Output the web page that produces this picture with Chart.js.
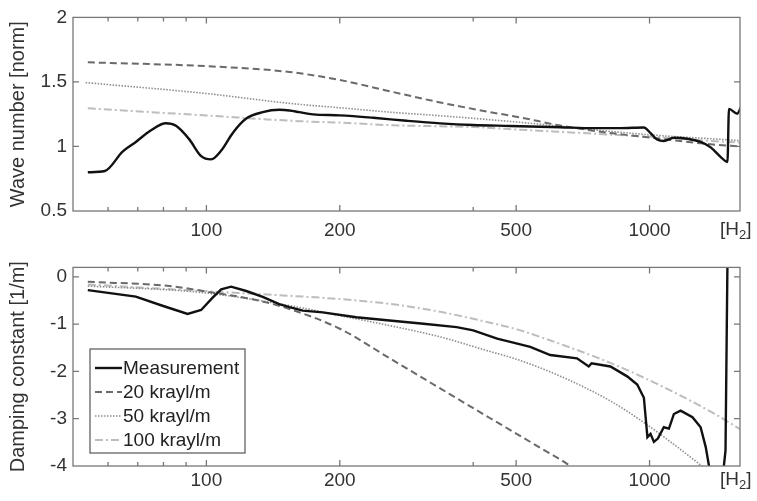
<!DOCTYPE html>
<html>
<head>
<meta charset="utf-8">
<script src="https://cdn.jsdelivr.net/npm/chart.js@4.4.0/dist/chart.umd.min.js"></script>
<style>
  body { margin: 0; background: #fff; }
  canvas { position: absolute; left: 0; }
  #topChart { top: 0; }
  #bottomChart { top: 250px; }
</style>
</head>
<body>
<canvas id="topChart" width="757" height="250"></canvas>
<canvas id="bottomChart" width="757" height="251"></canvas>
<script>
// --- frequency axis ---
const xTickValues = [60, 70, 80, 90, 100, 200, 400, 500, 1000];
const xTickLabels = [100, 200, 500, 1000];

// --- top panel: wave number [norm] ---
const waveTicks = [0.5, 1, 1.5, 2];
const measTopFreq = [54, 59, 64.7, 69.3, 75, 81, 85.4, 91.5, 97.3, 102.5, 108, 114.7, 123, 134, 146, 154, 162, 174, 200, 238, 283, 337, 400, 485, 629, 748, 860, 971, 1005, 1040, 1077, 1135, 1217, 1304, 1374, 1448, 1499, 1511, 1578, 1607];
const measTopWave = [0.80, 0.81, 0.96, 1.035, 1.125, 1.18, 1.16, 1.055, 0.925, 0.90, 0.968, 1.105, 1.216, 1.266, 1.284, 1.279, 1.266, 1.249, 1.241, 1.222, 1.199, 1.179, 1.166, 1.159, 1.149, 1.142, 1.142, 1.147, 1.104, 1.054, 1.042, 1.067, 1.06, 1.035, 0.993, 0.918, 0.88, 1.291, 1.254, 1.304];
const k20TopFreq = [54, 100, 154, 200, 259, 337, 437, 511, 629, 816, 1059, 1374, 1600];
const k20TopWave = [1.652, 1.622, 1.577, 1.515, 1.428, 1.341, 1.266, 1.225, 1.162, 1.104, 1.06, 1.017, 1.0];
const k50TopFreq = [53.4, 100, 154, 200, 259, 337, 500, 816, 1059, 1374, 1600];
const k50TopWave = [1.495, 1.41, 1.334, 1.30, 1.266, 1.238, 1.19, 1.117, 1.084, 1.06, 1.045];
const k100TopFreq = [54, 100, 162, 200, 259, 400, 511, 816, 1059, 1374, 1600];
const k100TopWave = [1.296, 1.24, 1.196, 1.185, 1.165, 1.15, 1.13, 1.092, 1.07, 1.043, 1.03];

// --- bottom panel: damping constant [1/m] ---
const dampTicks = [-4, -3, -2, -1, 0];
const measBotFreq = [54, 69.3, 79.6, 90.7, 97.3, 103.3, 108, 113.7, 123, 134, 146, 154, 165, 183, 218, 259, 309, 367, 400, 453, 485, 538, 597, 686, 729, 740, 816, 890, 938, 971, 989, 1005, 1023, 1044, 1077, 1106, 1135, 1175, 1250, 1304, 1339, 1362, 1400, 1460, 1484, 1499];
const measBotDamp = [-0.28, -0.417, -0.611, -0.785, -0.701, -0.44, -0.264, -0.208, -0.299, -0.424, -0.576, -0.64, -0.715, -0.75, -0.854, -0.923, -0.993, -1.063, -1.13, -1.306, -1.375, -1.479, -1.653, -1.722, -1.896, -1.826, -1.896, -2.104, -2.278, -2.556, -3.39, -3.32, -3.49, -3.42, -3.18, -3.21, -2.90, -2.83, -2.97, -3.18, -3.60, -4.0, -4.3, -4.3, -3.67, 0.3];
const k20BotFreq = [54, 82.5, 103.3, 127, 154, 200, 259, 337, 437, 485, 577, 657, 700];
const k20BotDamp = [-0.104, -0.194, -0.333, -0.472, -0.68, -1.097, -1.72, -2.36, -2.99, -3.24, -3.66, -3.98, -4.2];
const k50BotFreq = [54, 98, 162, 200, 259, 337, 437, 500, 629, 816, 971, 1156, 1304, 1400];
const k50BotDamp = [-0.194, -0.333, -0.646, -0.82, -1.03, -1.27, -1.58, -1.74, -2.10, -2.625, -3.08, -3.60, -3.98, -4.2];
const k100BotFreq = [54, 98, 154, 200, 259, 337, 437, 502, 629, 816, 1059, 1374, 1600];
const k100BotDamp = [-0.16, -0.30, -0.40, -0.47, -0.57, -0.74, -0.97, -1.11, -1.42, -1.82, -2.30, -2.85, -3.22];

const seriesNames = ['Measurement', '20 krayl/m', '50 krayl/m', '100 krayl/m'];

Chart.defaults.font.family = "'Liberation Sans', Arial, sans-serif";
Chart.defaults.font.size = 19;
Chart.defaults.color = '#333';

function toPoints(freqs, vals) {
    return freqs.map((f, i) => ({ x: f, y: vals[i] }));
}

function makeDatasets(sets, smoothMeas) {
    return [
        { label: seriesNames[0], data: sets[0], borderColor: '#111', borderWidth: 2.4,
          cubicInterpolationMode: smoothMeas ? 'monotone' : 'default', tension: 0 },
        { label: seriesNames[1], data: sets[1], borderColor: '#6a6a6a', borderWidth: 2,
          borderDash: [7, 4], cubicInterpolationMode: 'monotone' },
        { label: seriesNames[2], data: sets[2], borderColor: '#8e8e8e', borderWidth: 1.6,
          borderDash: [1.5, 1.5], cubicInterpolationMode: 'monotone' },
        { label: seriesNames[3], data: sets[3], borderColor: '#bdbdbd', borderWidth: 2,
          borderDash: [8, 3, 2, 3], cubicInterpolationMode: 'monotone' }
    ].map(ds => Object.assign(ds, { pointRadius: 0, fill: false }));
}

// box + inward tick marks + [H2] unit, matlab style
const framePlugin = {
    id: 'frame',
    afterDraw(chart, args, opts) {
        const { ctx, chartArea: a, scales } = chart;
        ctx.save();
        ctx.strokeStyle = '#777';
        ctx.lineWidth = 1.3;
        ctx.strokeRect(a.left, a.top, a.right - a.left, a.bottom - a.top);
        ctx.beginPath();
        xTickValues.forEach(v => {
            const px = scales.x.getPixelForValue(v);
            const len = xTickLabels.includes(v) ? 6 : 4;
            ctx.moveTo(px, a.bottom); ctx.lineTo(px, a.bottom - len);
            ctx.moveTo(px, a.top); ctx.lineTo(px, a.top + len);
        });
        scales.y.ticks.forEach(t => {
            const py = scales.y.getPixelForValue(t.value);
            if (py <= a.top + 1 || py >= a.bottom - 1) return;
            ctx.moveTo(a.left, py); ctx.lineTo(a.left + 6, py);
            ctx.moveTo(a.right, py); ctx.lineTo(a.right - 6, py);
        });
        ctx.stroke();

        // unit label
        const y = a.bottom + opts.unitOffset;
        ctx.fillStyle = '#333';
        ctx.textBaseline = 'middle';
        ctx.textAlign = 'left';
        ctx.font = "19px 'Liberation Sans', Arial, sans-serif";
        ctx.fillText('[H', 720, y);
        const w = ctx.measureText('[H').width;
        ctx.font = "13px 'Liberation Sans', Arial, sans-serif";
        ctx.fillText('2', 720 + w, y + 5);
        const w2 = ctx.measureText('2').width;
        ctx.font = "19px 'Liberation Sans', Arial, sans-serif";
        ctx.fillText(']', 720 + w + w2, y);
        ctx.restore();
    }
};

// legend box inside the lower panel
const legendPlugin = {
    id: 'boxLegend',
    afterDraw(chart, args, opts) {
        if (!opts.show) return;
        const { ctx } = chart;
        const bx = 90, by = 99, bw = 155, bh = 104;
        ctx.save();
        ctx.fillStyle = '#fff';
        ctx.fillRect(bx, by, bw, bh);
        ctx.strokeStyle = '#555';
        ctx.lineWidth = 1.2;
        ctx.strokeRect(bx, by, bw, bh);
        ctx.font = "19px 'Liberation Sans', Arial, sans-serif";
        ctx.textBaseline = 'middle';
        ctx.textAlign = 'left';
        chart.data.datasets.forEach((ds, i) => {
            const y = by + 19 + i * 24;
            ctx.strokeStyle = ds.borderColor;
            ctx.lineWidth = ds.borderWidth;
            ctx.setLineDash(ds.borderDash || []);
            ctx.beginPath();
            ctx.moveTo(95, y); ctx.lineTo(122, y);
            ctx.stroke();
            ctx.setLineDash([]);
            ctx.fillStyle = '#222';
            ctx.fillText(ds.label, 123, y + 1);
        });
        ctx.restore();
    }
};

function makeChart(id, sets, cfg) {
    return new Chart(document.getElementById(id), {
        type: 'line',
        data: { datasets: makeDatasets(sets, cfg.smoothMeas) },
        options: {
            responsive: false,
            animation: false,
            devicePixelRatio: 1,
            layout: { padding: { top: cfg.padTop, right: 17, left: 0, bottom: 0 } },
            plugins: {
                legend: { display: false },
                tooltip: { enabled: false },
                frame: { unitOffset: cfg.unitOffset },
                boxLegend: { show: cfg.legend }
            },
            scales: {
                x: {
                    type: 'logarithmic',
                    min: 50,
                    max: 1600,
                    grid: { display: false, drawTicks: false },
                    border: { display: false },
                    afterBuildTicks: s => { s.ticks = xTickValues.map(v => ({ value: v })); },
                    afterFit: s => { s.height = cfg.xHeight; },
                    ticks: {
                        autoSkip: false,
                        maxRotation: 0,
                        padding: cfg.xPad,
                        callback: v => xTickLabels.includes(v) ? String(v) : ''
                    }
                },
                y: {
                    min: cfg.yMin,
                    max: cfg.yMax,
                    grid: { display: false, drawTicks: false },
                    border: { display: false },
                    afterBuildTicks: s => { s.ticks = cfg.yTicks.map(v => ({ value: v })); },
                    afterFit: s => { s.width = 73; },
                    ticks: { padding: 6, callback: v => String(v) },
                    title: { display: true, text: cfg.title, font: { size: 20 }, padding: { top: 6, bottom: 0 } }
                }
            }
        },
        plugins: [framePlugin, legendPlugin]
    });
}

makeChart('topChart', [
    toPoints(measTopFreq, measTopWave),
    toPoints(k20TopFreq, k20TopWave),
    toPoints(k50TopFreq, k50TopWave),
    toPoints(k100TopFreq, k100TopWave)
], { padTop: 10, xHeight: 39, xPad: 8, unitOffset: 19, yMin: 0.5, yMax: 2, yTicks: waveTicks,
     title: 'Wave number [norm]', legend: false, smoothMeas: true });

makeChart('bottomChart', [
    toPoints(measBotFreq, measBotDamp),
    toPoints(k20BotFreq, k20BotDamp),
    toPoints(k50BotFreq, k50BotDamp),
    toPoints(k100BotFreq, k100BotDamp)
], { padTop: 15, xHeight: 35, xPad: 3, unitOffset: 14, yMin: -4, yMax: 0.2, yTicks: dampTicks,
     title: 'Damping constant [1/m]', legend: true, smoothMeas: false });
</script>
</body>
</html>
